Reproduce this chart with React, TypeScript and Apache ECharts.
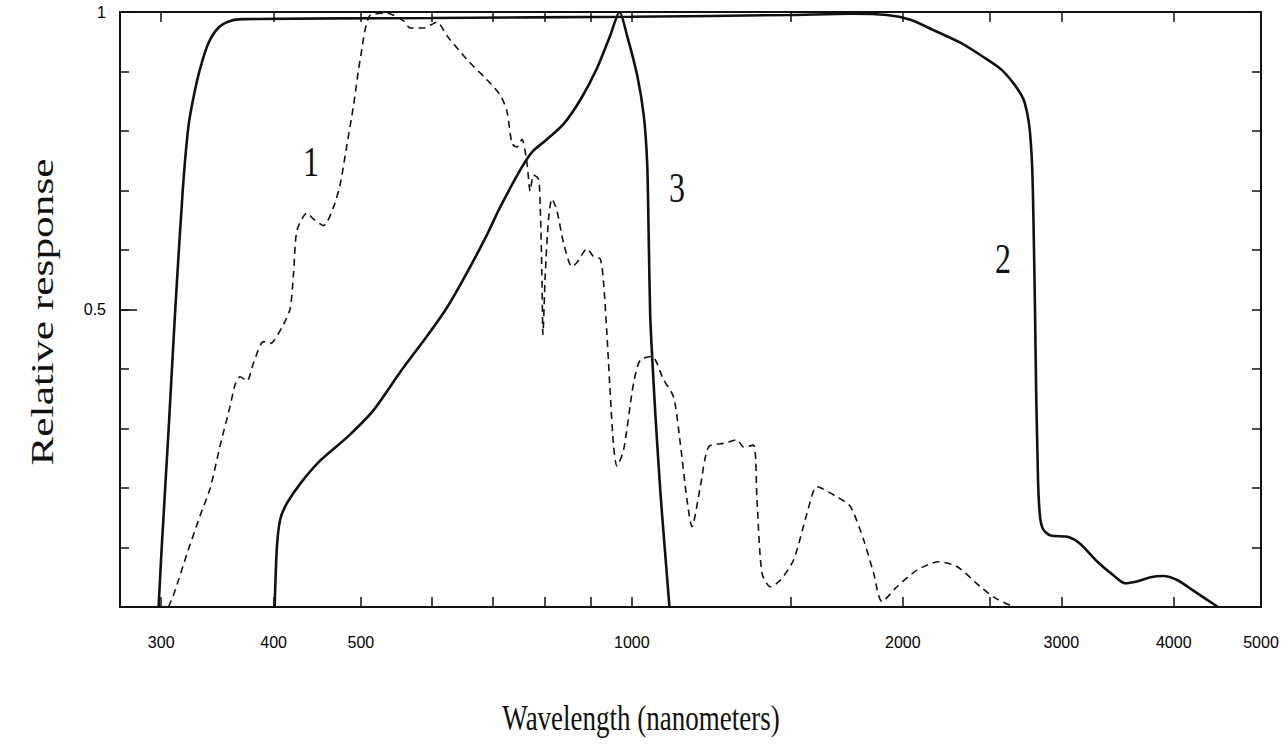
import React, { useEffect, useRef } from "react";
import * as echarts from "echarts";

// Wavelength (nm) axis range, log scale
const WL_MIN = 270;
const WL_MAX = 5000;
const xTickValues = [300, 400, 500, 600, 700, 800, 900, 1000, 1500, 2000, 2500, 3000, 4000, 5000];
const xTickLabels = [300, 400, 500, 1000, 2000, 3000, 4000, 5000];
const yTickLabels = [0.5, 1];

// Curve 1 (dashed): [wavelength nm, relative response]
const curve1: [number, number][] = [
  [305.7, 0], [310.1, 0.023], [320.4, 0.089], [331.5, 0.154], [340.1, 0.2], [348.9, 0.272],
  [357.9, 0.338], [362.5, 0.374], [367.2, 0.387], [373.6, 0.38], [379.9, 0.41], [389.8, 0.446],
  [396.5, 0.443], [410.2, 0.475], [417.3, 0.502], [420.9, 0.561], [424.6, 0.633], [435.6, 0.662],
  [443, 0.652], [454.5, 0.641], [466.2, 0.672], [474.3, 0.711], [482.5, 0.777], [490.7, 0.843],
  [499.2, 0.921], [512.1, 0.995], [534.5, 0.998], [557.7, 0.985], [567.3, 0.973], [587, 0.973],
  [607.4, 0.983], [623.2, 0.96], [655.9, 0.92], [690.4, 0.886], [714.2, 0.86], [726.6, 0.833],
  [736, 0.779], [745.4, 0.773], [755, 0.786], [764.7, 0.746], [771.1, 0.699], [777.7, 0.726],
  [787.7, 0.719], [791.1, 0.672], [794.5, 0.559], [796.6, 0.458], [801.3, 0.559], [808.1, 0.652],
  [815.1, 0.686], [825.6, 0.666], [839.7, 0.612], [857.9, 0.572], [869, 0.579], [891.5, 0.602],
  [906.7, 0.589], [922.4, 0.585], [930.2, 0.545], [938.3, 0.458], [946.3, 0.358], [954.3, 0.271],
  [962.6, 0.237], [979.1, 0.264], [1004.4, 0.376], [1021.8, 0.415], [1052.8, 0.421], [1084.5, 0.382],
  [1112.6, 0.353], [1131.9, 0.275], [1151.5, 0.18], [1166.3, 0.135], [1191.3, 0.202], [1216.9, 0.269],
  [1264.5, 0.275], [1308.6, 0.281], [1330.9, 0.269], [1365.4, 0.272], [1377.3, 0.18], [1395, 0.057],
  [1425, 0.034], [1461.9, 0.045], [1512.5, 0.079], [1565.3, 0.157], [1605.8, 0.202], [1690.1, 0.185],
  [1748.6, 0.169], [1809.1, 0.113], [1856, 0.057], [1896.3, 0.009], [1970.6, 0.034], [2073.9, 0.062],
  [2191.9, 0.076], [2297.4, 0.068], [2438.5, 0.034], [2533.9, 0.015], [2655.4, 0],
];

// Curve 2 (solid, broad band)
const curve2: [number, number][] = [
  [298, 0], [300.4, 0.1], [305.8, 0.3], [311, 0.5], [317, 0.7], [321.6, 0.807], [326.4, 0.862],
  [331.4, 0.905], [338.6, 0.948], [347.5, 0.974], [358, 0.985], [370, 0.988], [600, 0.99],
  [1000, 0.992], [1500, 0.995], [1750, 0.997], [1920, 0.995], [2040, 0.987], [2160, 0.97],
  [2320, 0.948], [2460, 0.924], [2570, 0.904], [2655, 0.88], [2722, 0.854], [2752, 0.827],
  [2768, 0.8], [2783, 0.748], [2790, 0.694], [2798, 0.595], [2805, 0.495], [2813, 0.362],
  [2822, 0.262], [2829, 0.196], [2842, 0.15], [2865, 0.13], [2920, 0.12], [3050, 0.118],
  [3150, 0.106], [3290, 0.076], [3430, 0.053], [3530, 0.04], [3640, 0.043], [3770, 0.05],
  [3890, 0.052], [4040, 0.045], [4210, 0.027], [4480, 0],
];

// Curve 3 (solid, peaked near 970 nm)
const curve3: [number, number][] = [
  [401, 0], [403.4, 0.102], [406.9, 0.148], [413.7, 0.174], [428, 0.207], [450.5, 0.246],
  [482.5, 0.285], [516.6, 0.331], [553, 0.395], [592, 0.455], [623, 0.503], [656, 0.562],
  [690, 0.625], [714, 0.672], [752, 0.735], [775, 0.765], [805, 0.786], [840, 0.812],
  [877, 0.853], [915, 0.906], [946, 0.96], [969, 1.0], [988, 0.96], [1014, 0.893],
  [1031, 0.826], [1040, 0.746], [1044, 0.625], [1048, 0.492], [1053, 0.425], [1062, 0.324],
  [1076, 0.191], [1089, 0.09], [1101, 0],
];

const toLog = (pts: [number, number][]) => pts.map(([w, v]) => [Math.log10(w), v]);

const INK = "#111";
const LABEL_FONT = "Liberation Sans, Arial, sans-serif";

export default function App() {
  const ref = useRef<HTMLDivElement>(null);

  useEffect(() => {
    if (!ref.current) return;
    const chart = echarts.init(ref.current, null, { renderer: "svg" });

    const xBase = {
      type: "value" as const,
      min: Math.log10(WL_MIN),
      max: Math.log10(WL_MAX),
      splitLine: { show: false },
      axisLine: { show: true, onZero: false, lineStyle: { color: INK, width: 2 } },
      axisTick: {
        show: true,
        inside: true,
        length: 10,
        customValues: xTickValues.map((v) => Math.log10(v)),
        lineStyle: { color: INK, width: 1.5 },
      },
    };

    const yBase = {
      type: "value" as const,
      min: 0,
      max: 1,
      interval: 0.1,
      splitLine: { show: false },
      axisLine: { show: true, onZero: false, lineStyle: { color: INK, width: 2 } },
      axisTick: { show: true, inside: true, length: 9, lineStyle: { color: INK, width: 1.5 } },
    };

    chart.setOption({
      animation: false,
      backgroundColor: "#ffffff",
      grid: { left: 120, right: 26, top: 12, bottom: 146, containLabel: false },
      xAxis: [
        {
          ...xBase,
          position: "bottom",
          axisLabel: {
            show: true,
            customValues: xTickLabels.map((v) => Math.log10(v)),
            formatter: (v: number) => String(Math.round(Math.pow(10, v))),
            margin: 27,
            fontSize: 16,
            fontFamily: LABEL_FONT,
            color: "#000",
          },
        },
        { ...xBase, position: "top", axisLabel: { show: false } },
      ],
      yAxis: [
        {
          ...yBase,
          position: "left",
          axisLabel: {
            show: true,
            margin: 14,
            fontSize: 16,
            fontFamily: LABEL_FONT,
            color: "#000",
            formatter: (v: number) => {
              const hit = yTickLabels.find((t) => Math.abs(t - v) < 1e-6);
              return hit === undefined ? "" : String(hit);
            },
          },
        },
        { ...yBase, position: "right", axisLabel: { show: false } },
        {
          type: "value",
          position: "left",
          min: 0,
          max: 1,
          splitLine: { show: false },
          axisLine: { show: false },
          axisLabel: { show: false },
          axisTick: {
            show: true,
            inside: true,
            length: 17,
            customValues: [0.5],
            lineStyle: { color: INK, width: 1.5 },
          },
        },
      ],
      series: [
        {
          type: "line",
          name: "1",
          data: toLog(curve1),
          showSymbol: false,
          smooth: 0.25,
          lineStyle: { color: INK, width: 1.6, type: [7, 5] },
          xAxisIndex: 0,
          yAxisIndex: 0,
        },
        {
          type: "line",
          name: "2",
          data: toLog(curve2),
          showSymbol: false,
          smooth: 0.25,
          lineStyle: { color: INK, width: 2.6 },
          xAxisIndex: 0,
          yAxisIndex: 0,
        },
        {
          type: "line",
          name: "3",
          data: toLog(curve3),
          showSymbol: false,
          smooth: 0.25,
          lineStyle: { color: INK, width: 2.6 },
          xAxisIndex: 0,
          yAxisIndex: 0,
        },
      ],
      graphic: [
        {
          type: "text",
          x: 42,
          y: 312,
          rotation: Math.PI / 2,
          scaleX: 1.4,
          style: {
            text: "Relative response",
            font: '31px "Liberation Serif", "Times New Roman", serif',
            fill: INK,
            align: "center",
            verticalAlign: "middle",
          },
        },
        {
          type: "text",
          x: 641,
          y: 718,
          scaleY: 1.3,
          style: {
            text: "Wavelength (nanometers)",
            font: '27px "Liberation Serif", "Times New Roman", serif',
            fill: INK,
            align: "center",
            verticalAlign: "middle",
          },
        },
        {
          type: "text",
          x: 311,
          y: 161,
          scaleY: 1.35,
          style: { text: "1", font: '32px "Liberation Serif", serif', fill: INK, align: "center", verticalAlign: "middle" },
        },
        {
          type: "text",
          x: 677,
          y: 187,
          scaleY: 1.35,
          style: { text: "3", font: '32px "Liberation Serif", serif', fill: INK, align: "center", verticalAlign: "middle" },
        },
        {
          type: "text",
          x: 1003,
          y: 258,
          scaleY: 1.35,
          style: { text: "2", font: '32px "Liberation Serif", serif', fill: INK, align: "center", verticalAlign: "middle" },
        },
      ],
    });

    return () => chart.dispose();
  }, []);

  return (
    <div
      ref={ref}
      style={{ position: "fixed", left: 0, top: 0, width: 1287, height: 753, background: "#fff" }}
    />
  );
}
